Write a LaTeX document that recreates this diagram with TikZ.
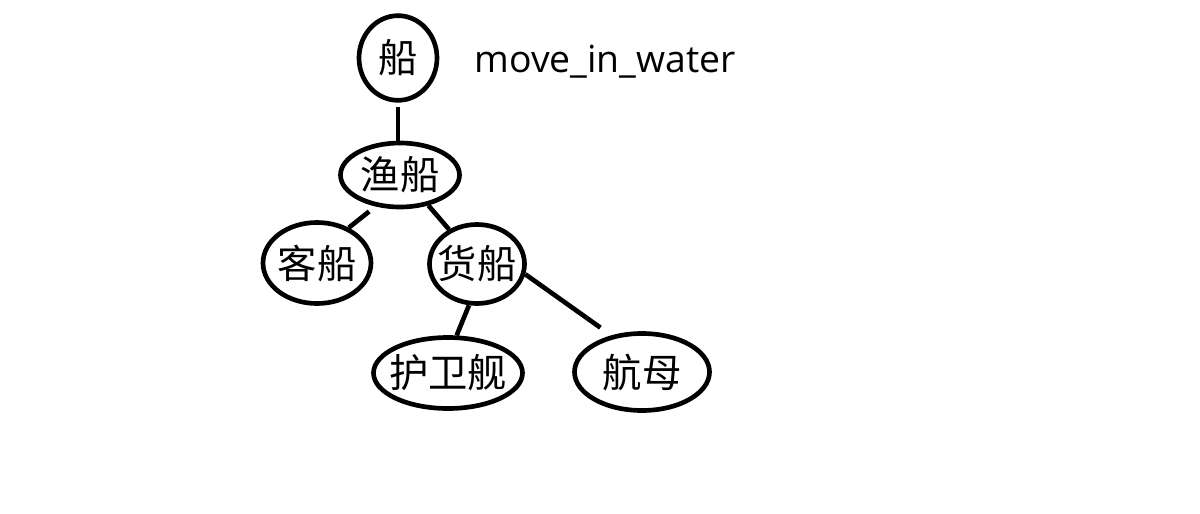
\documentclass[tikz,border=0pt]{standalone}
\usepackage{fontspec}
\setmainfont{Noto Sans CJK SC}
\newfontfamily\latinfont{Open Sans}
\usetikzlibrary{shapes.geometric}

\tikzset{every picture/.style={line width=0.75pt}}
\tikzset{
  shipnode/.style={draw, ellipse, line width=3.5pt, inner sep=-5pt, font=\fontsize{29.5}{32}\selectfont},
  shipedge/.style={line width=3.5pt}
}

\begin{document}
\begin{tikzpicture}[x=0.75pt,y=0.75pt,yscale=-1,xscale=1]
%set diagram left start at 0, and has height of 514
\useasboundingbox (0,0) rectangle (1200,514);

%Shape: Ellipse
\node [shipnode, minimum width=58.5pt, minimum height=63.5pt] (chuan) at (398,58) {船};
%Shape: Ellipse
\node [shipnode, minimum width=89.25pt, minimum height=48pt] (yuchuan) at (400,175) {渔船};
%Shape: Ellipse
\node [shipnode, minimum width=81pt, minimum height=60.75pt] (kechuan) at (317,263) {客船};
%Shape: Ellipse
\node [shipnode, minimum width=71.25pt, minimum height=59.25pt] (huochuan) at (477,264) {货船};
%Shape: Ellipse
\node [shipnode, minimum width=111.75pt, minimum height=53.25pt] (huweijian) at (448,373) {护卫舰};
%Shape: Ellipse
\node [shipnode, minimum width=101.25pt, minimum height=57.75pt] (hangmu) at (642,372) {航母};

%Straight Lines
\draw [shipedge, shorten <=3pt] (chuan.south) -- (chuan.south |- yuchuan.north) ;
%Straight Lines
\draw [shipedge, shorten <=6pt] (yuchuan.232) -- (kechuan.48) ;
%Straight Lines
\draw [shipedge] (yuchuan.313) -- (huochuan.129) ;
%Straight Lines
\draw [shipedge] (huochuan.259) -- (huweijian.77) ;
%Straight Lines
\draw [shipedge, shorten >=10pt] (huochuan.348) -- (hangmu.130) ;

% Text Node
\node [anchor=base west, inner sep=0pt, font=\latinfont\fontsize{28}{32}\selectfont] (method) at (474,72) {move\_in\_water};

\end{tikzpicture}
\end{document}
